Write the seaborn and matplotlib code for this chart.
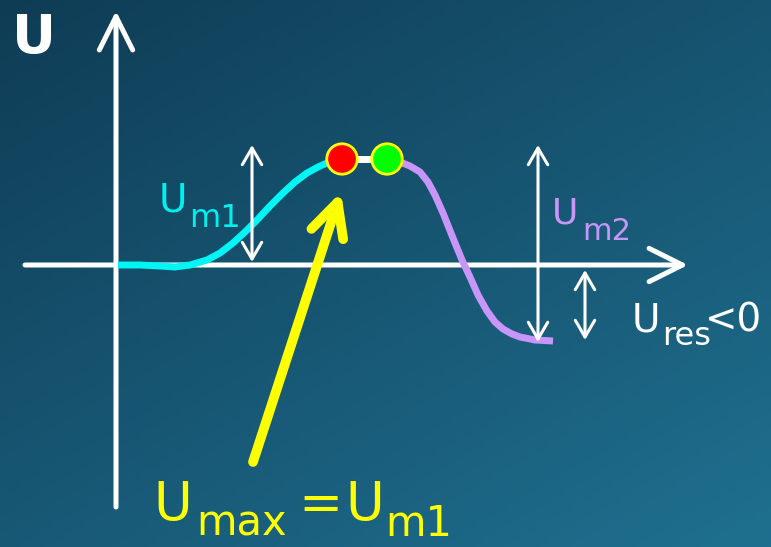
import numpy as np
import matplotlib
matplotlib.use("Agg")
import matplotlib.pyplot as plt
from matplotlib.patches import FancyArrowPatch
import seaborn as sns

sns.set_style("white")
plt.rcParams['font.family'] = ['DejaVu Sans']

# Schematic curve (canvas units, y grows downward)
rise_x = [118, 140, 160, 175, 190, 207, 220, 233, 245, 257, 270, 283, 295, 307, 318, 327, 342]
rise_y = [265, 265, 266, 267, 265, 260, 253, 243, 232, 220, 206, 193, 182, 173, 167, 163, 160]
fall_x = [388, 400, 410, 420, 428, 435, 443, 453, 462, 470, 478, 487, 495, 503, 512, 520, 535, 553]
fall_y = [160, 162, 166, 172, 182, 195, 213, 238, 260, 277, 295, 311, 322, 329, 334, 337, 340, 341]
plateau_x = [342, 388]
plateau_y = [159, 159]

# Marked points: maximum (red) and end of plateau (green)
dot_x = [342, 387]
dot_y = [159, 159]
dot_colors = ['#ff0000', '#00ff00']

W, H = 771, 547
fig = plt.figure(figsize=(W / 100, H / 100), dpi=100)
ax = fig.add_axes([0, 0, 1, 1])
ax.set_xlim(0, W)
ax.set_ylim(H, 0)
ax.axis('off')

# background gradient
xs = np.linspace(0, 1, 200)
ys = np.linspace(0, 1, 150)
gx, gy = np.meshgrid(xs, ys)
t = 0.45 * gx + 0.55 * gy
c0 = np.array([0x0f, 0x3c, 0x55]) / 255
c1 = np.array([0x1f, 0x70, 0x90]) / 255
bg = c0[None, None, :] * (1 - t[..., None]) + c1[None, None, :] * t[..., None]
ax.imshow(bg, extent=[0, W, H, 0], aspect='auto', zorder=0)


def arrow(p0, p1, style, hl, hw, lw, color, z=3):
    a = FancyArrowPatch(p0, p1,
                        arrowstyle=f"{style},head_length={hl},head_width={hw}",
                        mutation_scale=1, lw=lw, color=color,
                        shrinkA=0, shrinkB=0, capstyle='round',
                        joinstyle='round', zorder=z)
    ax.add_patch(a)


# axes
arrow((116, 507), (116, 11), '->', 24, 12, 3.6, 'white')
arrow((25, 265), (688, 265), '->', 24, 12, 3.6, 'white')

# curves
sns.lineplot(x=rise_x, y=rise_y, sort=False, estimator=None, color='#00f5f5',
             linewidth=5, solid_capstyle='butt', ax=ax, zorder=4)
sns.lineplot(x=fall_x, y=fall_y, sort=False, estimator=None, color='#c896f8',
             linewidth=5, solid_capstyle='butt', ax=ax, zorder=4)
sns.lineplot(x=plateau_x, y=plateau_y, sort=False, estimator=None, color='white',
             linewidth=5, solid_capstyle='butt', ax=ax, zorder=4)

# amplitude markers
arrow((252, 145), (252, 262), '<->', 12, 7, 2.2, 'white', 5)
arrow((538, 145), (538, 342), '<->', 12, 7, 2.2, 'white', 5)
arrow((585, 270), (585, 340), '<->', 12, 7, 2.2, 'white', 5)

# yellow pointer
arrow((253, 462), (341, 192), '->', 24, 12, 7, '#ffff00', 6)

sns.scatterplot(x=dot_x, y=dot_y, hue=dot_x, palette=dot_colors, s=480,
                edgecolor='#ffff00', linewidth=2, legend=False, ax=ax, zorder=7)

# labels
def put(s, x, y, size, color, weight='normal'):
    ax.text(x, y, s, fontsize=size, color=color, fontweight=weight,
            ha='left', va='baseline', zorder=8)

put('U', 12, 53, 39, 'white', 'bold')

put('U', 159, 212, 28, '#00f0f0')
put('m1', 189, 227, 23, '#00f0f0')

put('U', 552, 223, 26, '#c896f8')
put('m2', 582, 240, 22, '#c896f8')

put('U', 632, 332, 28, 'white')
put('res', 662, 345, 23, 'white')
put('<0', 705, 332, 28, 'white')

put('U', 153, 520, 38, '#ffff00')
put('max', 196, 536, 30, '#ffff00')
put('=', 298, 520, 38, '#ffff00')
put('U', 345, 520, 38, '#ffff00')
put('m1', 385, 536, 30, '#ffff00')

fig.savefig('out.png', dpi=100)
